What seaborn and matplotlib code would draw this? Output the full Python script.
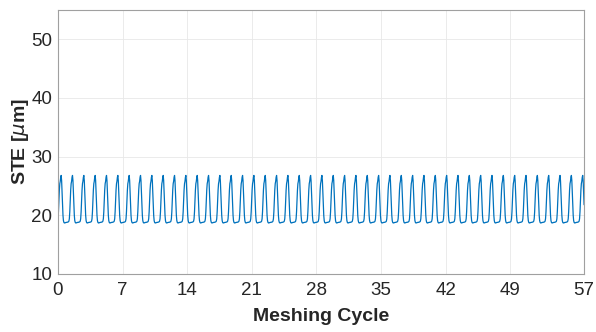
import numpy as np
import pandas as pd
import matplotlib
matplotlib.use("Agg")
import matplotlib.pyplot as plt
import seaborn as sns

# STE over one mesh period (25 evenly spaced phase samples), in micrometres
period_profile = [19.4, 20.6, 22.4, 24.3, 25.4, 25.8, 26.5, 26.8, 25.9, 24.0,
                  21.8, 20.0, 19.1, 18.8, 18.7, 18.7, 18.75, 18.75, 18.8, 18.8,
                  18.8, 18.85, 18.85, 18.9, 19.0]
n_periods = 46.42         # mesh periods shown across the window
x_start, x_end = 0, 57    # meshing cycle range

x_ticks = [0, 7, 14, 21, 28, 35, 42, 49, 57]
y_ticks = [10, 20, 30, 40, 50]

n_per = len(period_profile)
n_samples = int(round(n_periods * n_per)) + 1
ste = np.resize(np.array(period_profile), n_samples)
cycle = np.linspace(x_start, x_end, n_samples)
df = pd.DataFrame({"cycle": cycle, "ste": ste})

sns.set_theme(style="white")
plt.rcParams["font.family"] = ["Liberation Sans", "DejaVu Sans"]
plt.rcParams["mathtext.fontset"] = "dejavusans"

fig = plt.figure(figsize=(5.96, 3.32), dpi=100)
ax = fig.add_axes([0.0973, 0.1747, 0.8827, 0.7953])

sns.lineplot(data=df, x="cycle", y="ste", ax=ax, color="#0072BD",
             linewidth=0.9, estimator=None, sort=False)

ax.set_xlim(x_start, x_end)
ax.set_ylim(10, 55)
ax.set_xticks(x_ticks)
ax.set_yticks(y_ticks)
ax.tick_params(axis="both", direction="in", length=3, width=0.6,
               colors="#a0a0a0", labelcolor="#262626", labelsize=13.5)
ax.tick_params(axis="x", pad=6)
ax.tick_params(axis="y", pad=4)
ax.grid(True, color="#e8e8e8", linewidth=0.6)
for s in ax.spines.values():
    s.set_color("#a0a0a0")
    s.set_linewidth(0.8)

ax.set_xlabel("Meshing Cycle", fontsize=14, fontweight="bold", color="#262626", labelpad=6)
ax.set_ylabel(r"STE [$\mu$m]", fontsize=14, fontweight="bold", color="#262626", labelpad=0)

fig.savefig("out.png", dpi=100)
